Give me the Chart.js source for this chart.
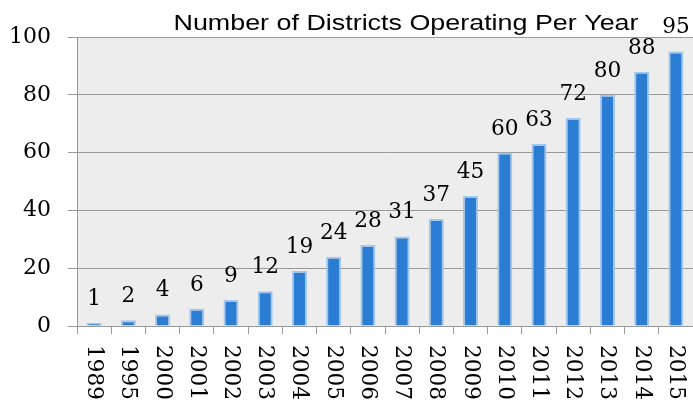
<!DOCTYPE html>
<html>
<head>
<meta charset="utf-8">
<script src="https://cdn.jsdelivr.net/npm/chart.js@4/dist/chart.umd.min.js"></script>
<style>
  html, body { margin: 0; padding: 0; background: #fff; }
  #wrap { width: 693px; height: 404px; }
</style>
</head>
<body>
<div id="wrap"><canvas id="districtChart"></canvas></div>
<script>
const years = ['1989', '1995', '2000', '2001', '2002', '2003', '2004', '2005', '2006',
               '2007', '2008', '2009', '2010', '2011', '2012', '2013', '2014', '2015'];
const districts = [1, 2, 4, 6, 9, 12, 19, 24, 28, 31, 37, 45, 60, 63, 72, 80, 88, 95];
const yTicks = [0, 20, 40, 60, 80, 100];
const chartTitle = 'Number of Districts Operating Per Year';

const serif = '"DejaVu Serif", serif';
const gridGray = '#999999';

// the original picture is stretched sideways, so text widths are tuned to match
const labelStretch = 0.94;
const titleStretch = 1.25;

// plot background, title, value labels and the downward-reading year labels
const extras = {
    id: 'extras',
    beforeDraw(chart) {
        const { ctx, chartArea } = chart;
        ctx.save();
        ctx.fillStyle = '#ededed';
        ctx.fillRect(chartArea.left, chartArea.top,
                     chartArea.right - chartArea.left, chartArea.bottom - chartArea.top);
        ctx.restore();
    },
    afterDraw(chart) {
        const { ctx, chartArea } = chart;
        const xScale = chart.scales.x;
        ctx.save();
        ctx.fillStyle = '#000';

        ctx.font = '21.5px "Liberation Sans", Arial, sans-serif';
        ctx.textAlign = 'center';
        ctx.textBaseline = 'alphabetic';
        ctx.save();
        ctx.translate(406, 30);
        ctx.scale(titleStretch, 1);
        ctx.fillText(chartTitle, 0, 0);
        ctx.restore();

        ctx.font = '23px ' + serif;
        const meta = chart.getDatasetMeta(0);
        meta.data.forEach((bar, i) => {
            ctx.save();
            ctx.translate(bar.x, bar.y - 18);
            ctx.scale(labelStretch, 1);
            ctx.fillText(String(districts[i]), 0, 0);
            ctx.restore();
        });

        ctx.textAlign = 'left';
        ctx.textBaseline = 'middle';
        years.forEach((yr, i) => {
            const x = xScale.getPixelForValue(i);
            ctx.save();
            ctx.translate(x, chartArea.bottom + 19);
            ctx.rotate(Math.PI / 2);
            ctx.scale(labelStretch, 1);
            ctx.fillText(yr, 0, 0);
            ctx.restore();
        });
        ctx.restore();
    }
};

new Chart(document.getElementById('districtChart'), {
    type: 'bar',
    data: {
        labels: years,
        datasets: [{
            data: districts,
            backgroundColor: '#2a7dd2',
            borderColor: '#a3c7ec',
            borderWidth: 2,
            borderSkipped: 'bottom',
            barPercentage: 0.44,
            categoryPercentage: 1
        }]
    },
    options: {
        responsive: true,
        maintainAspectRatio: false,
        animation: false,
        layout: { padding: { top: 37, right: 0, bottom: 0, left: 0 } },
        plugins: {
            legend: { display: false },
            title: { display: false },
            tooltip: { enabled: false }
        },
        scales: {
            x: {
                grid: {
                    offset: true,
                    drawOnChartArea: false,
                    drawTicks: true,
                    tickLength: 8,
                    color: gridGray
                },
                border: { color: gridGray, width: 1 },
                ticks: { display: false },
                afterFit(scale) { scale.height = 78; }
            },
            y: {
                min: 0,
                max: 100,
                afterBuildTicks(scale) { scale.ticks = yTicks.map(v => ({ value: v })); },
                grid: { color: gridGray, tickLength: 9 },
                border: { color: gridGray, width: 1 },
                ticks: {
                    color: '#000',
                    padding: 17,
                    font: { family: serif, size: 22 }
                },
                afterFit(scale) { scale.width = 77; }
            }
        }
    },
    plugins: [extras]
});
</script>
</body>
</html>
